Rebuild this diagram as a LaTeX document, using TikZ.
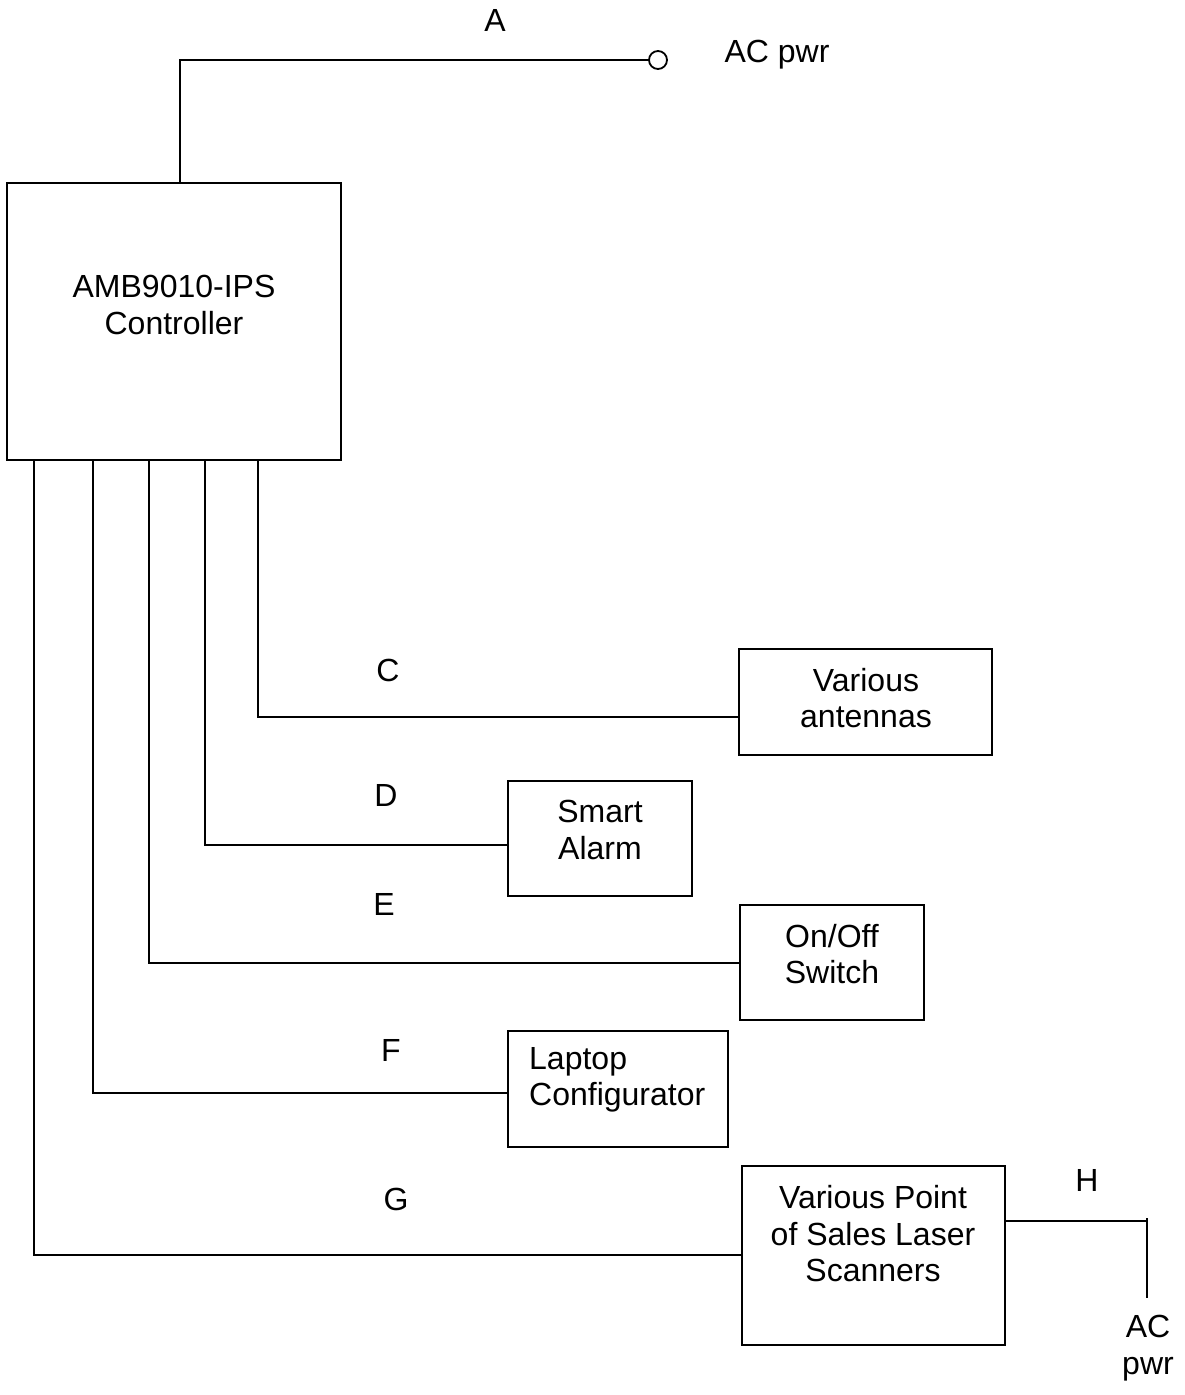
\documentclass[tikz,border=0pt]{standalone}
\usepackage{fontspec}
\setmainfont{Liberation Sans}
\begin{document}
\begin{tikzpicture}[x=1pt,y=-1pt,
  every node/.style={font=\fontsize{32}{36.5}\selectfont, inner sep=0pt},
  box/.style={draw, line width=1.8pt, rectangle, inner sep=0pt},
  wire/.style={line width=1.8pt},
  lbl/.style={align=center}]
\useasboundingbox (0,0) rectangle (1185,1395);
% boxes (no text)
\node[box, minimum width=334, minimum height=277] (ctrl) at (174,321.5) {};
\node[box, minimum width=253, minimum height=106] (ant) at (865.5,702) {};
\node[box, minimum width=184, minimum height=115] (alarm) at (600,838.5) {};
\node[box, minimum width=184, minimum height=115] (sw) at (832,962.5) {};
\node[box, minimum width=220, minimum height=116] (lap) at (618,1089) {};
\node[box, minimum width=263, minimum height=179] (scan) at (873.5,1255.5) {};
% box texts
\node[lbl] (ctrlT) at (174,305) {AMB9010-IPS\\Controller};
\node[lbl] (antT) at (866,698) {Various\\antennas};
\node[lbl] (alarmT) at (600,830) {Smart\\Alarm};
\node[lbl] (swT) at (832,954) {On/Off\\Switch};
\node[align=left, anchor=west] (lapT) at (529,1080) {Laptop\\Configurator};
\node[lbl] (scanT) at (873,1234) {Various Point\\of Sales Laser\\Scanners};
% AC power top
\coordinate (topA) at (180,183);
\coordinate (topB) at (180,60);
\node[draw, circle, line width=1.8pt, minimum size=18, inner sep=0pt] (acc) at (658,60) {};
\draw[wire] (topA) -- (topB) -- (acc.west);
\node (acT) at (777,55) {AC pwr};
\node (A) at (495,20) {A};
% controller outputs
\coordinate (c) at (258,460);
\coordinate (d) at (205,460);
\coordinate (e) at (149,460);
\coordinate (f) at (93,460);
\coordinate (g) at (34,460);
\coordinate (cT) at (739,717);
\coordinate (dT) at (508,845);
\coordinate (eT) at (740,963);
\coordinate (fT) at (508,1093);
\coordinate (gT) at (742,1255);
\draw[wire] (c) |- (cT);
\draw[wire] (d) |- (dT);
\draw[wire] (e) |- (eT);
\draw[wire] (f) |- (fT);
\draw[wire] (g) |- (gT);
\node (C) at (388,670) {C};
\node (D) at (386,795) {D};
\node (E) at (384,904) {E};
\node (F) at (391,1050) {F};
\node (G) at (396,1199) {G};
% H
\coordinate (h1) at (1005,1221);
\coordinate (h2) at (1147,1221);
\coordinate (h3) at (1147,1218);
\coordinate (h4) at (1147,1298);
\draw[wire] (h1) -- (h2);
\draw[wire] (h3) -- (h4);
\node (H) at (1087,1180) {H};
\node[lbl] (acH) at (1148,1348) {AC\\pwr};
\end{tikzpicture}
\end{document}
